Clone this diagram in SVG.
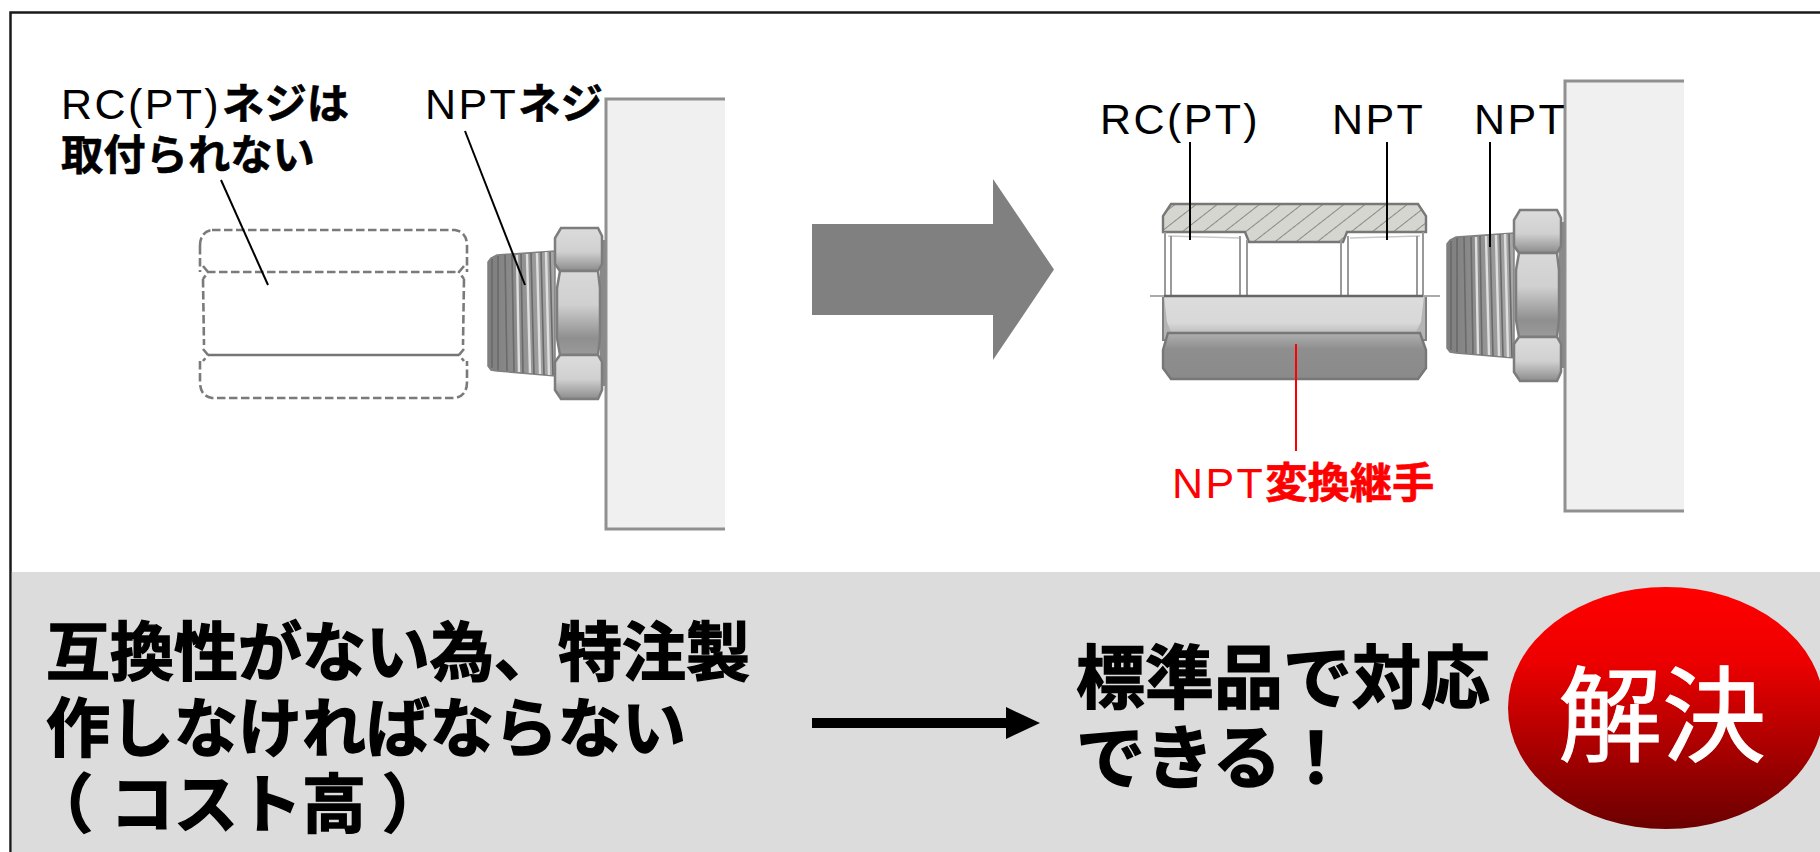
<svg xmlns="http://www.w3.org/2000/svg" width="1820" height="852" viewBox="0 0 1820 852">
<style>
.t{font-family:"Liberation Sans","Noto Sans CJK JP",sans-serif;fill:#000}
.j{font-family:"Noto Sans CJK JP",sans-serif;font-weight:700;fill:#000}
.l{font-size:43px;letter-spacing:2.4px}
.k{font-size:42.300px;letter-spacing:0;stroke:#000;stroke-width:.6px}
.kr{font-size:42.300px;letter-spacing:0;fill:#f00;stroke:#f00;stroke-width:.6px}
.b{font-size:64px;stroke:#000;stroke-width:1.4px}
.c{font-size:69px;stroke:#000;stroke-width:1.4px}
.w{fill:#f0f0f0}
.ln{stroke:#000;stroke-width:2px;fill:none}
.hx{stroke:#7d7d7d;stroke-width:2.5px}
.dash{fill:none;stroke:#7a7a7a;stroke-width:2.6px;stroke-dasharray:8.500 3.500}
.th{stroke:#dedede;stroke-width:2.4px;fill:none}
.thd{stroke:#6a6a6a;stroke-width:1.6px;fill:none}
.g{stroke:#999;stroke-width:2px;fill:none}
</style>
<defs>
<linearGradient id="hxg" x1="0" y1="0" x2="0" y2="1"><stop offset="0" stop-color="#dcdcdc"/><stop offset=".55" stop-color="#d0d0d0"/><stop offset="1" stop-color="#8c8c8c"/></linearGradient>
<linearGradient id="hxm" x1="0" y1="0" x2="0" y2="1"><stop offset="0" stop-color="#d8d8d8"/><stop offset=".4" stop-color="#d0d0d0"/><stop offset=".8" stop-color="#8f8f8f"/><stop offset="1" stop-color="#9a9a9a"/></linearGradient>
<linearGradient id="lo" x1="0" y1="0" x2="0" y2="1"><stop offset="0" stop-color="#b0b0b0"/><stop offset=".35" stop-color="#8e8e8e"/><stop offset="1" stop-color="#8a8a8a"/></linearGradient>
<linearGradient id="mid" x1="0" y1="0" x2="0" y2="1"><stop offset="0" stop-color="#dcdcdc"/><stop offset=".75" stop-color="#d8d8d8"/><stop offset="1" stop-color="#c0c0c0"/></linearGradient>
<linearGradient id="thg" x1="0" y1="0" x2="1" y2="0"><stop offset="0" stop-color="#7e7e7e"/><stop offset=".45" stop-color="#8e8e8e"/><stop offset="1" stop-color="#a8a8a8"/></linearGradient>
<linearGradient id="red" x1="0" y1="0" x2="0" y2="1"><stop offset="0" stop-color="#ff0000"/><stop offset=".3" stop-color="#ee0000"/><stop offset="1" stop-color="#6b0000"/></linearGradient>
<pattern id="hatch" width="13" height="13" patternUnits="userSpaceOnUse" patternTransform="rotate(-38 0 0)"><rect width="13" height="13" fill="#d6d6d0"/><path d="M0 0H13" stroke="#767676" stroke-width="1.600"/></pattern>
<g id="fit">
<path class="w" d="M1565 81H1684V511H1565Z"/>
<path d="M1684 81H1565V511H1684" fill="none" stroke="#909090" stroke-width="3"/>
<path d="M1447 244L1450 240L1456 237L1514 233V358L1456 353L1450 352L1447 348Z" fill="url(#thg)" stroke="#808080" stroke-width="1.500"/>
<path class="thd" d="M1451 241V350M1457 238V352M1464 237L1466 353M1471 237L1473 354M1480 236L1482 355M1490 235L1493 356M1500 234L1503 357M1509 234L1512 357"/>
<path class="th" d="M1476 237L1478 354M1486 236L1489 355M1496 235L1499 356M1505 234L1508 357"/>
<rect x="1559" y="222" width="6" height="146" fill="#8a8a8a"/>
<path class="hx" fill="url(#hxg)" d="M1520 210H1557L1561 218V246L1557 253H1519L1514 246V220Z"/>
<path class="hx" fill="url(#hxm)" d="M1519 253H1557L1559 270V320L1557 337H1519L1516 320V270Z"/>
<path class="hx" fill="url(#hxg)" d="M1519 337H1557L1561 344V372L1557 381H1520L1514 372V344Z"/>
</g>
</defs>
<rect width="1820" height="852" fill="#fff"/>
<path d="M10.500 852V12.500H1820" fill="none" stroke="#1a1a1a" stroke-width="2.500"/>
<rect x="11.800" y="572" width="1808.200" height="280" fill="#dcdcdc"/>

<g id="fitting-left"><use href="#fit" transform="translate(-959 18)"/></g>
<g id="fitting-right"><use href="#fit"/></g>

<g id="dashed-nut">
<path class="dash" d="M212 230H455Q467 232 467 246V272M200 246Q200 232 212 230M200 246V272M207 272H460M203 266L208 272L203 279M464 266L459 272L464 279M203 279L204 345M464 279L463 345M203 349L208 355L203 361M464 349L459 355L464 361M200 361V382Q200 396 212 398H455Q467 396 467 382V361"/>
<path d="M208 355H459" stroke="#757575" stroke-width="2.600"/>
</g>

<g id="adapter">
<rect x="1164" y="240" width="259" height="56" fill="#fff"/>
<path d="M1171 204H1418L1426 216V232L1347 232L1343 242H1249L1245 232H1163V216Z" fill="url(#hatch)" stroke="#777" stroke-width="2.400"/>
<path d="M1168 236L1240 238M1350 238L1420 236" stroke="#c8c8c8" stroke-width="1.500"/>
<path class="g" d="M1165 232V296M1171 236V296M1240 236V296M1247 240V296M1341 240V296M1348 236V296M1417 236V296M1423 232V296"/>
<path d="M1163 296H1426V340H1163Z" fill="#b4b4b4" stroke="#808080" stroke-width="2"/>
<path d="M1164 296H1424L1421 322L1416 332H1171L1167 322Z" fill="url(#mid)"/>
<path d="M1150 296H1440" stroke="#aaa" stroke-width="2"/>
<path d="M1164 296H1423" stroke="#666" stroke-width="2.400"/>
<path d="M1168 333H1420L1426 350V368L1418 379H1171L1163 368V350Z" fill="url(#lo)" stroke="#777" stroke-width="2.400"/>
</g>

<g id="connectors">
<path class="ln" d="M221 180L268 285"/>
<path class="ln" d="M465 131L525 285"/>
<path class="ln" d="M1190 142V240"/>
<path class="ln" d="M1387 142V240"/>
<path class="ln" d="M1490 142V247"/>
<path d="M1296 344V451" stroke="#f00" stroke-width="2" fill="none"/>
</g>

<g id="big-arrow"><path d="M812 224H993V179L1054 269.500L993 360V315H812Z" fill="#808080"/></g>
<g id="small-arrow"><path d="M812 718H1006V707L1040 723L1006 739V728H812Z" fill="#000"/></g>

<g id="labels-top">
<text class="t l" x="61" y="119">RC(PT)<tspan class="j k" dx="1">ネジは</tspan></text>
<text class="j k" x="61" y="170">取付られない</text>
<text class="t l" x="425" y="119">NPT<tspan class="j k">ネジ</tspan></text>
<text class="t l" x="1100" y="134">RC(PT)</text>
<text class="t l" x="1332" y="134">NPT</text>
<text class="t l" x="1474" y="134">NPT</text>
<text class="t l" x="1172" y="498" style="fill:#f00">NPT<tspan class="j kr">変換継手</tspan></text>
</g>

<g id="labels-bottom">
<text class="j b" x="46" y="675">互換性がない為、特注製</text>
<text class="j b" x="46" y="751">作しなければならない</text>
<text class="j b" x="29" y="827">（<tspan x="110">コスト高</tspan><tspan x="382">）</tspan></text>
<text class="j c" x="1076" y="703">標準品で対応</text>
<text class="j c" x="1076" y="783">できる！</text>
</g>

<g id="badge">
<ellipse cx="1666" cy="708" rx="158" ry="121" fill="url(#red)"/>
<text x="1558" y="754" font-size="104" font-family="'Noto Sans CJK JP',sans-serif" fill="#fff" stroke="#fff" stroke-width="1">解決</text>
</g>
</svg>
